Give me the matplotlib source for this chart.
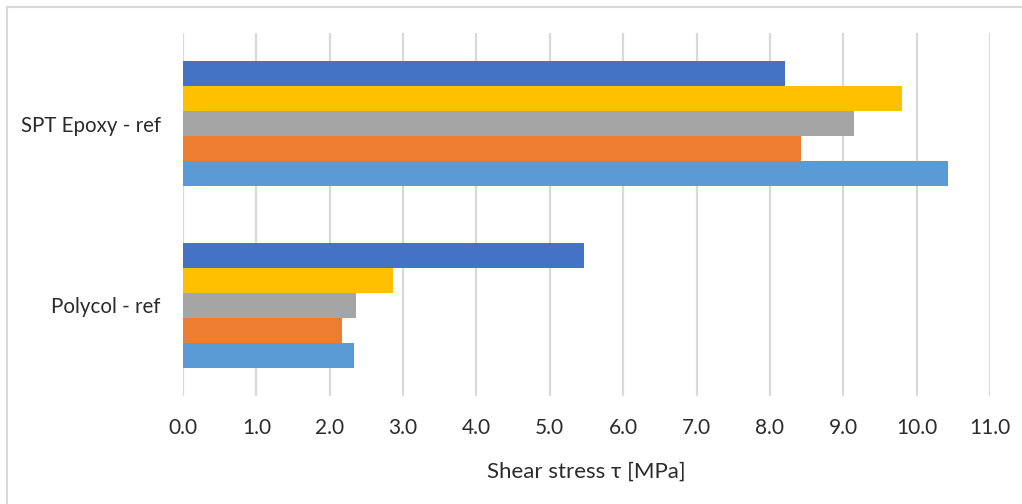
import matplotlib
matplotlib.use("Agg")
import matplotlib.pyplot as plt
from matplotlib.patches import Rectangle
import numpy as np

categories = ["Polycol - ref", "SPT Epoxy - ref"]
series_names = ["S1", "S2", "S3", "S4", "S5"]
series_colors = ["#5B9BD5", "#ED7D31", "#A5A5A5", "#FFC000", "#4472C4"]
values = [
    [2.33, 10.43],   # light blue
    [2.17, 8.43],    # orange
    [2.36, 9.15],    # gray
    [2.86, 9.80],    # yellow
    [5.47, 8.21],    # dark blue
]
xticks = np.arange(0, 11.01, 1.0)
xlabel = "Shear stress τ [MPa]"

plt.rcParams['font.family'] = ['Lato', 'DejaVu Sans']

W, H = 1022, 504
fig = plt.figure(figsize=(W / 100, H / 100), dpi=100)
ax = fig.add_axes([183 / W, 1 - 396 / H, (990 - 183) / W, (396 - 33) / H])

n = len(values)
group_w = 0.69
bh = group_w / n
y = np.arange(len(categories))
for i, (vals, col) in enumerate(zip(values, series_colors)):
    ax.barh(y - group_w / 2 + bh * (i + 0.5), vals, height=bh, color=col,
            edgecolor="none", zorder=3)

ax.set_xlim(0, 11)
ax.set_ylim(-0.5, len(categories) - 0.5)
ax.set_xticks(xticks)
ax.set_xticklabels([f"{t:.1f}" for t in xticks])
ax.set_yticks(y)
ax.set_yticklabels(categories)
ax.grid(axis="x", color="#D9D9D9", linewidth=1.6, zorder=0)
ax.set_axisbelow(True)
for s in ax.spines.values():
    s.set_visible(False)
ax.tick_params(axis="x", length=0, labelsize=15, labelcolor="#2b2b2b", pad=16)
ax.tick_params(axis="y", length=0, labelsize=14.8, labelcolor="#2b2b2b", pad=16)
ax.set_xlabel(xlabel, fontsize=16, color="#2b2b2b", labelpad=17)

# chart border (extends beyond image on right/bottom)
fig.patches.append(Rectangle((7 / W, -0.1), 1.2, 1 - 7 / H + 0.1, transform=fig.transFigure,
                             fill=False, edgecolor="#D9D9D9", linewidth=1.5))

fig.savefig("out.png", dpi=100)
